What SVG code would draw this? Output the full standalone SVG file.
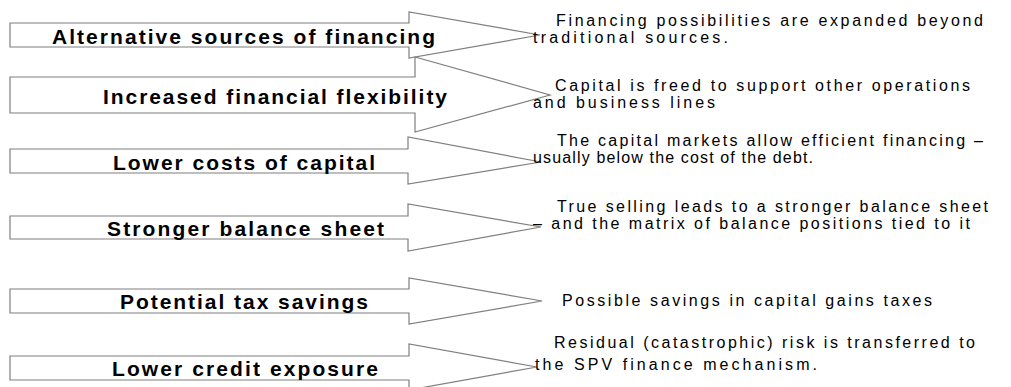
<svg xmlns="http://www.w3.org/2000/svg" width="1011" height="387" viewBox="0 0 1011 387">
<style>
.arrow{fill:#ffffff;stroke:#7f7f7f;stroke-width:1.2;stroke-linejoin:miter}
.lbl{font-family:"Liberation Sans",Arial,sans-serif;font-weight:bold;font-size:21px;fill:#000}
.desc{font-family:"Liberation Sans",Arial,sans-serif;font-size:16px;fill:#000}
</style>
<rect width="1011" height="387" fill="#ffffff"/>
<g id="node1">
<polygon class="arrow" points="10,23 409,23 409,12 540,35 409,58 409,47 10,47"/>
<text class="lbl" x="52" y="44" textLength="383" lengthAdjust="spacing">Alternative sources of financing</text>
<text class="desc" x="556" y="26" textLength="427" lengthAdjust="spacing">Financing possibilities are expanded beyond</text>
<text class="desc" x="533" y="43" textLength="195" lengthAdjust="spacing">traditional sources.</text>
</g>
<g id="node2">
<polygon class="arrow" points="10,77 415,77 415,57 550,95 415,132 415,113 10,113"/>
<text class="lbl" x="103" y="104" textLength="344" lengthAdjust="spacing">Increased financial flexibility</text>
<text class="desc" x="555" y="91" textLength="415" lengthAdjust="spacing">Capital is freed to support other operations</text>
<text class="desc" x="533" y="108" textLength="182" lengthAdjust="spacing">and business lines</text>
</g>
<g id="node3">
<polygon class="arrow" points="10,149 408,149 408,137 541,162 408,184 408,173 10,173"/>
<text class="lbl" x="113" y="170" textLength="262" lengthAdjust="spacing">Lower costs of capital</text>
<text class="desc" x="557" y="146" textLength="426" lengthAdjust="spacing">The capital markets allow efficient financing –</text>
<text class="desc" x="533" y="163" textLength="280" lengthAdjust="spacing">usually below the cost of the debt.</text>
</g>
<g id="node4">
<polygon class="arrow" points="10,216 408,216 408,204 541,227 408,251 408,239 10,239"/>
<text class="lbl" x="107" y="236" textLength="277" lengthAdjust="spacing">Stronger balance sheet</text>
<text class="desc" x="557" y="212" textLength="431" lengthAdjust="spacing">True selling leads to a stronger balance sheet</text>
<text class="desc" x="533" y="229" textLength="437" lengthAdjust="spacing">– and the matrix of balance positions tied to it</text>
</g>
<g id="node5">
<polygon class="arrow" points="10,289 409,289 409,278 542,301 409,324 409,313 10,313"/>
<text class="lbl" x="120" y="309" textLength="248" lengthAdjust="spacing">Potential tax savings</text>
<text class="desc" x="562" y="306" textLength="370" lengthAdjust="spacing">Possible savings in capital gains taxes</text>
</g>
<g id="node6">
<polygon class="arrow" points="10,356 409,356 409,344 537,367 409,390 409,380 10,380"/>
<text class="lbl" x="112" y="376" textLength="266" lengthAdjust="spacing">Lower credit exposure</text>
<text class="desc" x="554" y="348" textLength="421" lengthAdjust="spacing">Residual (catastrophic) risk is transferred to</text>
<text class="desc" x="535" y="370" textLength="282" lengthAdjust="spacing">the SPV finance mechanism.</text>
</g>
</svg>
